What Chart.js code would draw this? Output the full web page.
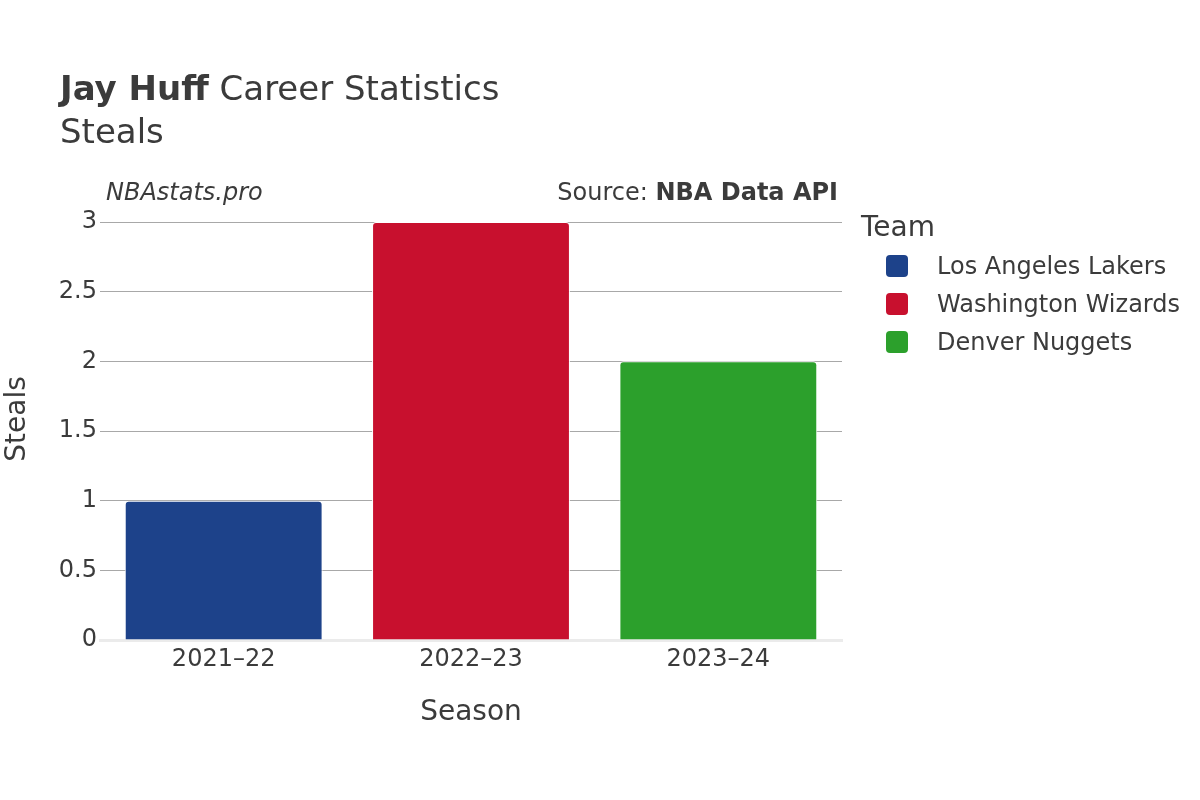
<!DOCTYPE html>
<html>
<head>
<meta charset="utf-8">
<script src="https://cdn.jsdelivr.net/npm/chart.js@4"></script>
<style>
  html, body { margin: 0; padding: 0; background: #fff; }
  #wrap { width: 1200px; height: 800px; position: relative; }
</style>
</head>
<body>
<div id="wrap"><canvas id="stealsChart" width="1200" height="800"></canvas></div>
<script>
const seasons = ['2021–22', '2022–23', '2023–24'];
const steals = [1, 3, 2];
const teams = ['Los Angeles Lakers', 'Washington Wizards', 'Denver Nuggets'];
const teamColors = ['#1d428a', '#c8102e', '#2ca02c'];
const yTicks = [0, 0.5, 1, 1.5, 2, 2.5, 3];

const FONT = "'DejaVu Sans', sans-serif";
const TEXT = '#3b3b3b';

// titles, source line, y title and legend drawn straight on the canvas
const decorPlugin = {
    id: 'decor',
    afterDraw(chart) {
        const ctx = chart.ctx;
        ctx.save();
        ctx.fillStyle = TEXT;
        ctx.textBaseline = 'middle';
        ctx.textAlign = 'left';

        ctx.font = 'bold 34px ' + FONT;
        ctx.fillText('Jay Huff', 60, 91);
        const w = ctx.measureText('Jay Huff').width;
        ctx.font = '34px ' + FONT;
        ctx.fillText(' Career Statistics', 60 + w, 91);
        ctx.fillText('Steals', 60, 134);

        ctx.font = 'italic 24px ' + FONT;
        ctx.fillText('NBAstats.pro', 106, 194);

        ctx.textAlign = 'right';
        ctx.font = 'bold 24px ' + FONT;
        ctx.fillText('NBA Data API', 838, 194);
        const bw = ctx.measureText('NBA Data API').width;
        ctx.font = '24px ' + FONT;
        ctx.fillText('Source: ', 838 - bw, 194);

        // y axis title
        ctx.save();
        ctx.translate(18, 419);
        ctx.rotate(-Math.PI / 2);
        ctx.textAlign = 'center';
        ctx.font = '28px ' + FONT;
        ctx.fillText('Steals', 0, 0);
        ctx.restore();

        ctx.textAlign = 'left';
        ctx.font = '28px ' + FONT;
        ctx.fillText('Team', 861, 229);
        ctx.font = '24px ' + FONT;
        teams.forEach((t, i) => {
            const y = 266 + i * 38;
            ctx.fillStyle = teamColors[i];
            ctx.beginPath();
            ctx.roundRect(886, y - 11, 22, 22, 4);
            ctx.fill();
            ctx.fillStyle = TEXT;
            ctx.fillText(t, 937, y + 2);
        });
        ctx.restore();
    }
};

new Chart(document.getElementById('stealsChart').getContext('2d'), {
    type: 'bar',
    data: {
        labels: seasons,
        datasets: [{
            label: 'Steals',
            data: steals,
            backgroundColor: teamColors,
            borderColor: '#ffffff',
            borderWidth: 1,
            borderRadius: 4,
            borderSkipped: 'bottom',
            categoryPercentage: 1,
            barPercentage: 0.8
        }]
    },
    options: {
        responsive: false,
        animation: false,
        layout: { padding: { left: 0, right: 358, top: 222, bottom: 60 } },
        plugins: {
            legend: { display: false },
            tooltip: { enabled: false }
        },
        scales: {
            x: {
                grid: { display: false },
                border: { display: true, color: '#ebebeb', width: 3 },
                ticks: { color: TEXT, font: { family: FONT, size: 24 }, padding: -3 },
                title: {
                    display: true, text: 'Season', color: TEXT,
                    font: { family: FONT, size: 28 }, padding: { bottom: 10 }
                },
                afterFit(scale) { scale.height = 100; }
            },
            y: {
                min: 0,
                max: 3,
                afterBuildTicks(scale) { scale.ticks = yTicks.map(v => ({ value: v })); },
                grid: {
                    color: ctx => ctx.tick && ctx.tick.value === 0 ? 'rgba(0,0,0,0)' : '#a8a8a8',
                    lineWidth: 1,
                    drawTicks: false
                },
                border: { display: false },
                ticks: {
                    color: TEXT, font: { family: FONT, size: 24 }, padding: 3,
                    callback: v => String(v)
                },
                afterFit(scale) { scale.width = 100; }
            }
        }
    },
    plugins: [decorPlugin]
});
</script>
</body>
</html>
